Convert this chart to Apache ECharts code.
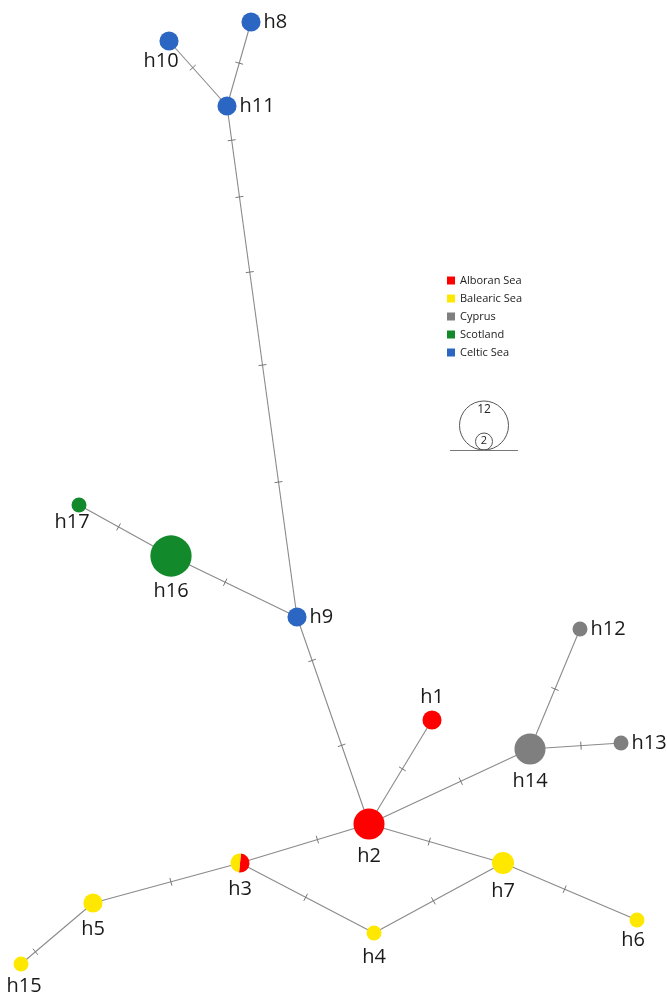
<!DOCTYPE html>
<html>
<head>
<meta charset="utf-8">
<script src="https://cdn.jsdelivr.net/npm/echarts@6/dist/echarts.min.js"></script>
<style>
  html, body { margin: 0; padding: 0; background: #fff; }
  #container { width: 667px; height: 996px; }
</style>
</head>
<body>
<div id="container"></div>
<script>
// haplotypes (layout coords)
const hapNames  = ['h1', 'h2', 'h4', 'h5', 'h6', 'h7', 'h8', 'h9', 'h10', 'h11', 'h12', 'h13', 'h14', 'h15', 'h16', 'h17']
const hapX      = [432, 369, 374, 93, 637, 503, 251, 297, 169, 227, 580, 621, 530, 21, 171, 79]
const hapY      = [720, 824, 933, 903, 920, 863, 22, 617, 41, 106, 629, 743, 749, 964, 556, 505]
const hapCount  = [2, 8, 1, 2, 1, 3, 2, 2, 2, 2, 1, 1, 8, 1, 18, 1]
const hapRegion = ['Alboran Sea', 'Alboran Sea', 'Balearic Sea', 'Balearic Sea', 'Balearic Sea', 'Balearic Sea',
                   'Celtic Sea', 'Celtic Sea', 'Celtic Sea', 'Celtic Sea', 'Cyprus', 'Cyprus', 'Cyprus',
                   'Balearic Sea', 'Scotland', 'Scotland']

// h3 is shared between two regions
const mixedName = 'h3'
const mixedX = 240
const mixedY = 863
const mixedBalearic = 1
const mixedAlboran = 1

const regions = ['Alboran Sea', 'Balearic Sea', 'Cyprus', 'Scotland', 'Celtic Sea']
const regionColors = ['#ff0000', '#ffe800', '#7f7f7f', '#12892a', '#2b66c2']

// edges and where the mutation ticks sit along them (fraction from -> to)
const edgeFrom  = ['h10', 'h8', 'h11', 'h17', 'h16', 'h9', 'h1', 'h2', 'h14', 'h14', 'h2', 'h4', 'h7', 'h3', 'h5', 'h2', 'h3']
const edgeTo    = ['h11', 'h11', 'h9', 'h16', 'h9', 'h2', 'h2', 'h14', 'h13', 'h12', 'h7', 'h7', 'h6', 'h5', 'h15', 'h3', 'h4']
const edgeTicks = [[0.41], [0.49], [0.067, 0.178, 0.325, 0.507, 0.736], [0.43], [0.43], [0.21, 0.62], [0.47],
                   [0.57], [0.56], [0.5], [0.45], [0.46], [0.46], [0.47], [0.8], [0.4], [0.49]]

const sizeOf = n => 15 * Math.pow(n, 0.35)

const pos = name => {
    if (name === mixedName) return [mixedX, mixedY]
    let i = hapNames.indexOf(name)
    return [hapX[i], hapY[i]]
}

// label placement
const labelPos = {
    h10: { position: 'bottom', offset: [-8, -2] },
    h17: { position: 'bottom', offset: [-7, -3] },
    h15: { position: 'bottom', offset: [3, 2] },
    h6: { position: 'bottom', offset: [-4, 0] },
    h16: { position: 'bottom', distance: 5 },
    h1: { position: 'top' },
    h8: { position: 'right' },
    h11: { position: 'right' },
    h9: { position: 'right' },
    h12: { position: 'right' },
    h13: { position: 'right' },
}

let edgeData = []
for (let i in edgeFrom) {
    let a = pos(edgeFrom[i])
    let b = pos(edgeTo[i])
    edgeData.push({ value: [a[0], a[1], b[0], b[1]], ticks: edgeTicks[i] })
}

const labelFont = { fontFamily: 'Open Sans', fontSize: 20, color: '#1a1a1a' }

let nodeSeries = regions.map((r, k) => {
    let data = []
    for (let i in hapNames) {
        if (hapRegion[i] !== r) continue
        let lp = labelPos[hapNames[i]] || { position: 'bottom', distance: 7 }
        data.push({
            name: hapNames[i],
            value: [hapX[i], hapY[i]],
            symbolSize: sizeOf(hapCount[i]),
            label: Object.assign({ show: true, formatter: '{b}', distance: 3 }, labelFont, lp)
        })
    }
    return {
        name: r,
        type: 'scatter',
        z: 3,
        itemStyle: { color: regionColors[k], opacity: 1 },
        emphasis: { disabled: true },
        data: data
    }
})

let chart = echarts.init(document.getElementById('container'))

chart.setOption({
    animation: false,
    grid: { left: 0, right: 0, top: 0, bottom: 0 },
    xAxis: { type: 'value', min: 0, max: 667, show: false },
    yAxis: { type: 'value', min: 0, max: 996, inverse: true, show: false },
    legend: {
        orient: 'vertical',
        left: 447,
        top: 275,
        padding: 0,
        itemWidth: 8,
        itemHeight: 8,
        itemGap: 7,
        icon: 'rect',
        data: regions,
        textStyle: { fontFamily: 'Open Sans', fontSize: 11, color: '#222' }
    },
    graphic: [
        { type: 'circle', shape: { cx: 484, cy: 425.5, r: 24.5 }, style: { fill: 'none', stroke: '#555', lineWidth: 1 } },
        { type: 'circle', shape: { cx: 484, cy: 441.5, r: 8.5 }, style: { fill: 'none', stroke: '#555', lineWidth: 1 } },
        { type: 'line', shape: { x1: 450, y1: 450.5, x2: 518, y2: 450.5 }, style: { stroke: '#777', lineWidth: 1.2 } },
        { type: 'text', x: 484, y: 410, style: { text: '12', fontFamily: 'Open Sans', fontSize: 12, fill: '#222', align: 'center', verticalAlign: 'middle' } },
        { type: 'text', x: 484, y: 441, style: { text: '2', fontFamily: 'Open Sans', fontSize: 11, fill: '#222', align: 'center', verticalAlign: 'middle' } }
    ],
    series: [{
        type: 'custom',
        name: 'edges',
        z: 1,
        silent: true,
        renderItem: (params, api) => {
            let a = api.coord([api.value(0), api.value(1)])
            let b = api.coord([api.value(2), api.value(3)])
            let dx = b[0] - a[0], dy = b[1] - a[1]
            let len = Math.sqrt(dx * dx + dy * dy)
            let nx = -dy / len * 4, ny = dx / len * 4
            let children = [{
                type: 'line',
                shape: { x1: a[0], y1: a[1], x2: b[0], y2: b[1] },
                style: { stroke: '#8a8a8a', lineWidth: 1.1 }
            }]
            edgeData[params.dataIndex].ticks.forEach(t => {
                let px = a[0] + dx * t, py = a[1] + dy * t
                children.push({
                    type: 'line',
                    shape: { x1: px - nx, y1: py - ny, x2: px + nx, y2: py + ny },
                    style: { stroke: '#777', lineWidth: 1 }
                })
            })
            return { type: 'group', children: children }
        },
        data: edgeData.map(e => e.value)
    }, ...nodeSeries, {
        type: 'custom',
        name: 'h3',
        z: 3,
        renderItem: (params, api) => {
            let c = api.coord([api.value(0), api.value(1)])
            let yel = api.value(2), red = api.value(3)
            let r = sizeOf(yel + red) / 2
            let redAng = Math.PI * 2 * red / (yel + red)
            let start = -Math.PI / 2 + 0.1
            return {
                type: 'group',
                children: [{
                    type: 'sector',
                    shape: { cx: c[0], cy: c[1], r0: 0, r: r, startAngle: start, endAngle: start + redAng },
                    style: { fill: regionColors[0] }
                }, {
                    type: 'sector',
                    shape: { cx: c[0], cy: c[1], r0: 0, r: r, startAngle: start + redAng, endAngle: start + Math.PI * 2 },
                    style: { fill: regionColors[1] }
                }, {
                    type: 'text',
                    x: c[0],
                    y: c[1] + r + 7,
                    style: { text: mixedName, fontFamily: 'Open Sans', fontSize: 20, fill: '#1a1a1a', align: 'center', verticalAlign: 'top' }
                }]
            }
        },
        data: [[mixedX, mixedY, mixedBalearic, mixedAlboran]]
    }]
})
</script>
</body>
</html>
